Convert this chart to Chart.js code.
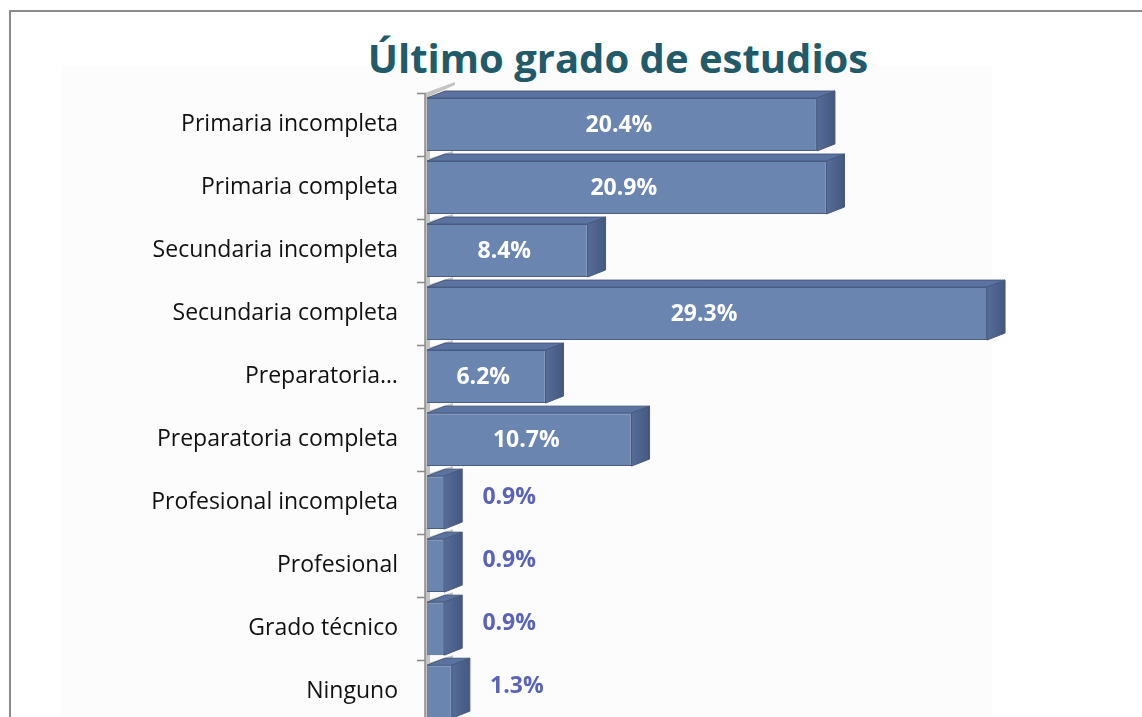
<!DOCTYPE html>
<html>
<head>
<meta charset="utf-8">
<script src="https://cdn.jsdelivr.net/npm/chart.js@4.4.1/dist/chart.umd.min.js"></script>
<style>
  html, body { margin: 0; padding: 0; background: #fff; overflow: hidden; }
  #wrap { position: relative; width: 1142px; height: 717px; overflow: hidden; }
  #frame { position: absolute; left: 9px; top: 10px; width: 1200px; height: 800px;
           border-top: 2px solid #8c8c8c; border-left: 2px solid #8c8c8c; }
  #panel { position: absolute; left: 62px; top: 66px; width: 930px; height: 700px; background: #fcfcfc; }
  #titulo { position: absolute; left: 0; width: 1236px; top: 30px; text-align: center;
            font: bold 40px "Open Sans", sans-serif; color: #215a69; line-height: 56px; }
  canvas { position: absolute; left: 0; top: 0; }
</style>
</head>
<body>
<div id="wrap">
  <div id="frame"></div>
  <div id="panel"></div>
  <div id="titulo">Último grado de estudios</div>
  <canvas id="gradoChart" width="1142" height="756"></canvas>
</div>
<script>
const categorias = [
  'Primaria incompleta',
  'Primaria completa',
  'Secundaria incompleta',
  'Secundaria completa',
  'Preparatoria…',
  'Preparatoria completa',
  'Profesional incompleta',
  'Profesional',
  'Grado técnico',
  'Ninguno'
];

const porcentajes = [20.4, 20.9, 8.4, 29.3, 6.2, 10.7, 0.9, 0.9, 0.9, 1.3];

// depth of the fake 3D bars
const DX = 18;
const DY = -7;

// side + top faces, and the grey wall next to the axis
const bars3d = {
  id: 'bars3d',
  beforeDatasetsDraw(chart) {
    const ctx = chart.ctx;
    const area = chart.chartArea;
    const yScale = chart.scales.y;
    const step = yScale.getPixelForValue(1) - yScale.getPixelForValue(0);
    ctx.save();
    // wall along the axis
    ctx.fillStyle = '#c4c4c4';
    ctx.fillRect(area.left - 2, area.top, 5, area.bottom - area.top);
    ctx.beginPath();
    ctx.moveTo(area.left - 2, area.top);
    ctx.lineTo(area.left + DX + 10, area.top + DY - 4);
    ctx.lineTo(area.left + DX + 10, area.top + DY - 1);
    ctx.lineTo(area.left + 3, area.top + 3);
    ctx.closePath();
    ctx.fill();
    for (let i = 1; i < categorias.length; i++) {
      const yb = yScale.getPixelForValue(i) - step / 2;
      ctx.beginPath();
      ctx.moveTo(area.left, yb + 3);
      ctx.lineTo(area.left + DX + 8, yb + DY + 2);
      ctx.lineTo(area.left + DX + 8, yb + DY + 5);
      ctx.lineTo(area.left + 3, yb + 6);
      ctx.closePath();
      ctx.fill();
    }
    ctx.strokeStyle = '#8a8a8a';
    ctx.lineWidth = 1.5;
    ctx.beginPath();
    ctx.moveTo(area.left - 2, area.top);
    ctx.lineTo(area.left - 2, area.bottom);
    ctx.stroke();
    ctx.restore();
  },
  afterDatasetsDraw(chart) {
    const ctx = chart.ctx;
    const meta = chart.getDatasetMeta(0);
    ctx.save();
    meta.data.forEach((bar) => {
      const top = bar.y - bar.height / 2;
      const bottom = bar.y + bar.height / 2;
      const left = bar.base;
      const right = bar.x;
      // top face
      ctx.beginPath();
      ctx.moveTo(left, top);
      ctx.lineTo(right, top);
      ctx.lineTo(right + DX, top + DY);
      ctx.lineTo(left + DX, top + DY);
      ctx.closePath();
      ctx.fillStyle = '#5a73a0';
      ctx.fill();
      ctx.strokeStyle = '#47597f';
      ctx.lineWidth = 1;
      ctx.stroke();
      // side face
      const g = ctx.createLinearGradient(right, 0, right + DX, 0);
      g.addColorStop(0, '#566d98');
      g.addColorStop(1, '#44587f');
      ctx.beginPath();
      ctx.moveTo(right, top);
      ctx.lineTo(right + DX, top + DY);
      ctx.lineTo(right + DX, bottom + DY);
      ctx.lineTo(right, bottom);
      ctx.closePath();
      ctx.fillStyle = g;
      ctx.fill();
      ctx.stroke();
    });
    // value labels
    ctx.font = 'bold 23px "Open Sans"';
    ctx.textAlign = 'center';
    ctx.textBaseline = 'middle';
    meta.data.forEach((bar, i) => {
      const v = porcentajes[i];
      const txt = v.toFixed(1) + '%';
      if (v > 5) {
        ctx.fillStyle = '#ffffff';
        ctx.fillText(txt, (bar.base + bar.x) / 2 - 3, bar.y + 1);
      } else {
        ctx.fillStyle = '#5a63b5';
        ctx.fillText(txt, bar.x + DX + 47, bar.y - 5);
      }
    });
    ctx.restore();
  }
};

const ctx = document.getElementById('gradoChart').getContext('2d');

const chart = new Chart(ctx, {
  type: 'bar',
  data: {
    labels: categorias,
    datasets: [{
      data: porcentajes,
      backgroundColor: '#6a86b0',
      borderColor: '#4a5e85',
      borderWidth: 1,
      barPercentage: 0.84,
      categoryPercentage: 1
    }]
  },
  options: {
    indexAxis: 'y',
    responsive: false,
    animation: false,
    layout: { padding: { left: 0, right: 46, top: 93, bottom: 9 } },
    plugins: {
      legend: { display: false },
      tooltip: { enabled: false },
      title: { display: false }
    },
    scales: {
      x: {
        display: false,
        min: 0,
        max: 35
      },
      y: {
        afterFit: (scale) => { scale.width = 427; },
        border: { display: false },
        grid: {
          drawOnChartArea: false,
          tickLength: 10,
          tickColor: '#8a8a8a',
          tickWidth: 1.5
        },
        ticks: {
          color: '#111',
          padding: 19,
          font: { family: 'Open Sans', size: 23 }
        }
      }
    }
  },
  plugins: [bars3d]
});
</script>
</body>
</html>
